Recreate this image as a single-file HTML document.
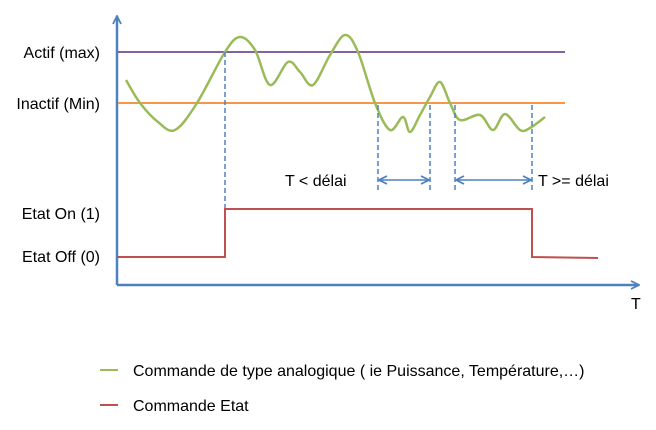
<!DOCTYPE html>
<html><head><meta charset="utf-8"><style>
body{margin:0;background:#fff;width:656px;height:425px;overflow:hidden}
svg text{font-family:"Liberation Sans",sans-serif;font-size:16px;fill:#000}
</style></head><body>
<svg id="c" width="656" height="425">
<defs><marker id="ah" markerUnits="userSpaceOnUse" markerWidth="10" markerHeight="10" refX="9" refY="5" orient="auto-start-reverse"><path d="M1,1 L9,5 L1,9" fill="none" stroke="#4f81bd" stroke-width="1.8"/></marker></defs>
<line x1="117" y1="285" x2="117" y2="16" stroke="#4f81bd" stroke-width="2.5" marker-end="url(#ah)"/>
<line x1="117" y1="285" x2="639" y2="285" stroke="#4f81bd" stroke-width="2.5" marker-end="url(#ah)"/>
<text x="631" y="309">T</text>
<text x="100" y="58" text-anchor="end">Actif (max)</text>
<text x="100" y="109" text-anchor="end">Inactif (Min)</text>
<text x="100" y="219" text-anchor="end">Etat On (1)</text>
<text x="100" y="262" text-anchor="end">Etat Off (0)</text>
<line x1="118" y1="52" x2="565" y2="52" stroke="#8064a2" stroke-width="2"/>
<line x1="118" y1="103" x2="565" y2="103" stroke="#f79646" stroke-width="2"/>
<g id="marks"></g>
<text x="285" y="186">T &lt; délai</text>
<text x="538" y="186">T &gt;= délai</text>
<line x1="100" y1="370" x2="118" y2="370" stroke="#9bbb59" stroke-width="2"/>
<text x="133" y="376">Commande de type analogique ( ie Puissance, Température,…)</text>
<line x1="100" y1="405" x2="118" y2="405" stroke="#c0504d" stroke-width="2"/>
<text x="133" y="411">Commande Etat</text>
</svg>
<script>
const greenX=[126,140,158,175,197,225,240,255,270,288,300,313,330,345,358,375,390,403,410,420,430,440,450,460,480,493,505,520,530,545];
const greenY=[80,103,122,130,103,52,37,50,85,62,72,85,55,35,52,103,130,117,132,115,97,82,103,120,115,130,114,130,128,117];
const dashX=[225,378,430,455,532];
const dashTop=[52,105,105,105,105];
const stateX=[117,225,225,532,532,598];
const stateY=[257,257,209,209,257,258];
const ns="http://www.w3.org/2000/svg";
const g=document.getElementById('marks');
function el(t,a){const e=document.createElementNS(ns,t);for(const k in a)e.setAttribute(k,a[k]);g.appendChild(e);return e;}
let d="M"+greenX[0]+","+greenY[0];
for(let i=0;i<greenX.length-1;i++){
 const p0=[greenX[Math.max(i-1,0)],greenY[Math.max(i-1,0)]],p1=[greenX[i],greenY[i]],p2=[greenX[i+1],greenY[i+1]],p3=[greenX[Math.min(i+2,greenX.length-1)],greenY[Math.min(i+2,greenX.length-1)]];
 d+=" C"+(p1[0]+(p2[0]-p0[0])/6)+","+(p1[1]+(p2[1]-p0[1])/6)+" "+(p2[0]-(p3[0]-p1[0])/6)+","+(p2[1]-(p3[1]-p1[1])/6)+" "+p2[0]+","+p2[1];
}
const gp=el('path',{d:d,fill:'none',stroke:'#9bbb59','stroke-width':2.5});


dashX.forEach((x,i)=>{
 const l=el('line',{x1:x,y1:dashTop[i],x2:x,y2:i==0?208:192,stroke:'#4f81bd','stroke-width':1.5,'stroke-dasharray':'5,3'});
 
 
});
[[378,430],[455,532]].forEach(p=>{
 const a=el('line',{x1:p[0]+1,y1:180,x2:p[1]-1,y2:180,stroke:'#4f81bd','stroke-width':1.5,'marker-end':'url(#ah)','marker-start':'url(#ah)'});
 
 
});
let sd=stateX.map((x,i)=>(i?"L":"M")+x+","+stateY[i]).join(" ");
const sp=el('path',{d:sd,fill:'none',stroke:'#c0504d','stroke-width':2});


</script>
</body></html>
